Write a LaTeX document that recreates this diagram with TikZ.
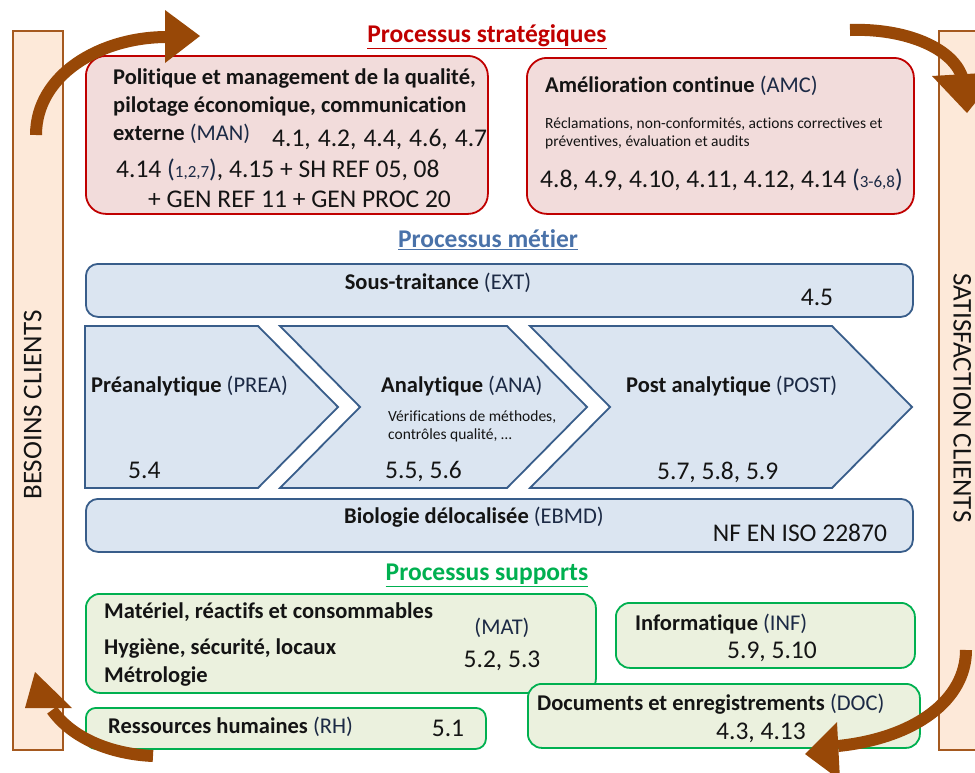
\documentclass[tikz,border=0pt]{standalone}
\usepackage{fontspec}
\setmainfont{Carlito}[Ligatures=CommonOff]
\definecolor{arrowbrown}{HTML}{984807}
\definecolor{barfill}{HTML}{FDE9D9}
\definecolor{barline}{HTML}{A5591F}
\definecolor{redline}{HTML}{C00000}
\definecolor{redfill}{HTML}{F2DCDB}
\definecolor{bluelinecol}{HTML}{385D8A}
\definecolor{bluefillcol}{HTML}{DBE5F1}
\definecolor{bluetitle}{HTML}{4A72A9}
\definecolor{greenline}{HTML}{00B050}
\definecolor{greenfill}{HTML}{EBF1DE}
\definecolor{txt}{HTML}{141414}
\definecolor{partxt}{HTML}{1C2A45}
\newcommand{\fsT}{\fontsize{25.5}{30}\selectfont}
\newcommand{\fsL}{\fontsize{22.5}{27}\selectfont}
\newcommand{\fsN}{\fontsize{25.5}{30}\selectfont}
\newcommand{\fsS}{\fontsize{15.5}{18}\selectfont}
\newcommand{\fsX}{\fontsize{17}{20}\selectfont}
\newcommand{\fsB}{\fontsize{27}{32}\selectfont}
\newcommand{\pr}[1]{{\color{partxt}#1}}
\newcommand{\gap}{\hspace{7pt}}
\tikzset{
  barbox/.style={draw=barline, fill=barfill, line width=2pt, inner sep=0, anchor=north west},
  redbox/.style={draw=redline, fill=redfill, line width=1.8pt, rounded corners=20pt, inner sep=0, anchor=north west},
  bluebox/.style={draw=bluelinecol, fill=bluefillcol, line width=1.8pt, rounded corners=12pt, inner sep=0, anchor=north west},
  greenbox/.style={draw=greenline, fill=greenfill, line width=1.8pt, rounded corners=14pt, inner sep=0, anchor=north west},
  chev/.style={draw=bluelinecol, fill=bluefillcol, line width=1.8pt, line join=miter},
  lbl/.style={inner sep=0, text=txt, anchor=west, text height=0.7em, text depth=0.2em, yshift=-4pt},
  lblc/.style={lbl, anchor=center},
  barlbl/.style={inner sep=0, text=txt, anchor=center, text height=0.7em, text depth=0.2em, font=\fsB},
  ttl/.style={inner sep=0, font=\fsT\bfseries, anchor=center, text height=0.7em, text depth=0.2em, yshift=-3pt},
  shaft/.style={draw=arrowbrown, line width=12pt},
  head/.style={fill=arrowbrown}
}
\begin{document}
\begin{tikzpicture}[x=1pt,y=-1pt]
\useasboundingbox (0,0) rectangle (975,772);
% side bars
\node[barbox, minimum width=50pt, minimum height=719pt] (besoins) at (12,30) {};
\node[barbox, minimum width=52pt, minimum height=719pt] (satisf) at (938,30) {};
\node[barlbl, rotate=90] (tbes) at (39,405) {BESOINS CLIENTS};
\node[barlbl, rotate=-90] (tsat) at (956,398) {SATISFACTION CLIENTS};

% strategic
\node[ttl, text=redline] (tstrat) at (487,37) {\underline{Processus stratégiques}};
\node[redbox, minimum width=402pt, minimum height=158pt] (man) at (85,55) {};
\node[redbox, minimum width=387pt, minimum height=156pt] (amc) at (526,57) {};
\node[lbl, font=\fsL\bfseries] (m1) at (113,78) {Politique et management de la qualité,};
\node[lbl, font=\fsL\bfseries] (m2) at (113,106) {pilotage économique, communication};
\node[lbl, font=\fsL] (m3) at (113,134) {\textbf{externe} \pr{(MAN)}};
\node[lbl, font=\fsN] (m4) at (272,140) {4.1,\gap 4.2,\gap 4.4,\gap 4.6,\gap 4.7};
\node[lbl, font=\fsN] (m5) at (116,171) {4.14 \pr{({\fsX 1,2,7})}, 4.15 + SH REF 05, 08};
\node[lbl, font=\fsN] (m6) at (148,201) {+ GEN REF 11 + GEN PROC 20};
\node[lbl, font=\fsL] (a1) at (545,86) {\textbf{Amélioration continue} \pr{(AMC)}};
\node[lbl, font=\fsS] (a2) at (545,122) {Réclamations, non-conformités, actions correctives et};
\node[lbl, font=\fsS] (a3) at (545,140) {préventives, évaluation et audits};
\node[lbl, font=\fsN] (a4) at (540,181) {4.8, 4.9, 4.10, 4.11, 4.12, 4.14 \pr{({\fsX 3-6,8})}};

% metier
\node[ttl, text=bluetitle] (tmet) at (488,242) {\underline{Processus métier}};
\node[bluebox, minimum width=827pt, minimum height=53pt] (ext) at (85,263) {};
\node[lblc, font=\fsL] (e1) at (438,283) {\textbf{Sous-traitance} \pr{(EXT)}};
\node[lblc, font=\fsN] (e2) at (817,299) {4.5};
\draw[chev] (85,326) -- (258,326) -- (338,407) -- (258,488) -- (85,488) -- cycle;
\draw[chev] (280,326) -- (507,326) -- (587,407) -- (507,488) -- (280,488) -- (360,407) -- cycle;
\draw[chev] (530,326) -- (832,326) -- (912,407) -- (832,488) -- (530,488) -- (610,407) -- cycle;
\node[lbl, font=\fsL] (p1) at (91,386) {\textbf{Préanalytique} \pr{(PREA)}};
\node[lbl, font=\fsN] (p2) at (128,472) {5.4};
\node[lbl, font=\fsL] (n1) at (381,386) {\textbf{Analytique} \pr{(ANA)}};
\node[lbl, font=\fsS] (n2) at (388,415) {Vérifications de méthodes,};
\node[lbl, font=\fsS] (n3) at (388,433) {contrôles qualité, …};
\node[lbl, font=\fsN] (n4) at (385,472) {5.5, 5.6};
\node[lbl, font=\fsL] (o1) at (626,386) {\textbf{Post analytique} \pr{(POST)}};
\node[lbl, font=\fsN] (o2) at (657,473) {5.7, 5.8, 5.9};
\node[bluebox, minimum width=827pt, minimum height=53pt] (ebmd) at (85,498) {};
\node[lblc, font=\fsL] (b1) at (474,517) {\textbf{Biologie délocalisée} \pr{(EBMD)}};
\node[lblc, font=\fsN] (b2) at (800,535) {NF EN ISO 22870};

% supports
\node[ttl, text=greenline] (tsup) at (487,575) {\underline{Processus supports}};
\node[greenbox, minimum width=510pt, minimum height=99pt] (mat) at (85,593) {};
\node[lbl, font=\fsL\bfseries] (t1) at (104,612) {Matériel, réactifs et consommables};
\node[lbl, font=\fsL\bfseries] (t2) at (104,648) {Hygiène, sécurité, locaux};
\node[lbl, font=\fsL\bfseries] (t3) at (104,676) {Métrologie};
\node[lblc, font=\fsL] (t4) at (502,628) {\pr{(MAT)}};
\node[lblc, font=\fsN] (t5) at (502,661) {5.2, 5.3};
\node[greenbox, minimum width=299pt, minimum height=65pt] (inf) at (615,602) {};
\node[lbl, font=\fsL] (i1) at (635,624) {\textbf{Informatique} \pr{(INF)}};
\node[lblc, font=\fsN] (i2) at (772,652) {5.9, 5.10};
\node[greenbox, minimum width=400pt, minimum height=41pt, rounded corners=10pt] (rh) at (85,707) {};
\node[lbl, font=\fsL] (r1) at (108,727) {\textbf{Ressources humaines} \pr{(RH)}};
\node[lblc, font=\fsN] (r2) at (448,730) {5.1};
\node[greenbox, minimum width=392pt, minimum height=64pt] (doc) at (527,683) {};
\node[lbl, font=\fsL] (d1) at (537,704) {\textbf{Documents et enregistrements} \pr{(DOC)}};
\node[lblc, font=\fsN] (d2) at (761,733) {4.3, 4.13};

% arrows
\coordinate (a1s) at (36,135);
\coordinate (a1e) at (167,37);
\draw[shaft] (a1s) .. controls (36,75) and (100,37) .. (a1e);
\fill[head] (165,10) -- (200,36) -- (165,63) -- cycle;
\coordinate (a2s) at (850,30);
\coordinate (a2e) at (963,80);
\draw[shaft] (a2s) .. controls (905,28) and (955,48) .. (a2e);
\fill[head] (932,76) -- (967,113) -- (1000,72) -- cycle;
\coordinate (a3s) at (966,650);
\coordinate (a3e) at (838,746);
\draw[shaft] (a3s) .. controls (966,700) and (915,738) .. (a3e);
\fill[head] (837,722) -- (805,754) -- (840,780) -- cycle;
\coordinate (a4s) at (153,756);
\coordinate (a4e) at (52,710);
\draw[shaft] (a4s) .. controls (110,754) and (72,738) .. (a4e);
\fill[head] (25,708) -- (35,672) -- (72,708) -- cycle;
\end{tikzpicture}
\end{document}
